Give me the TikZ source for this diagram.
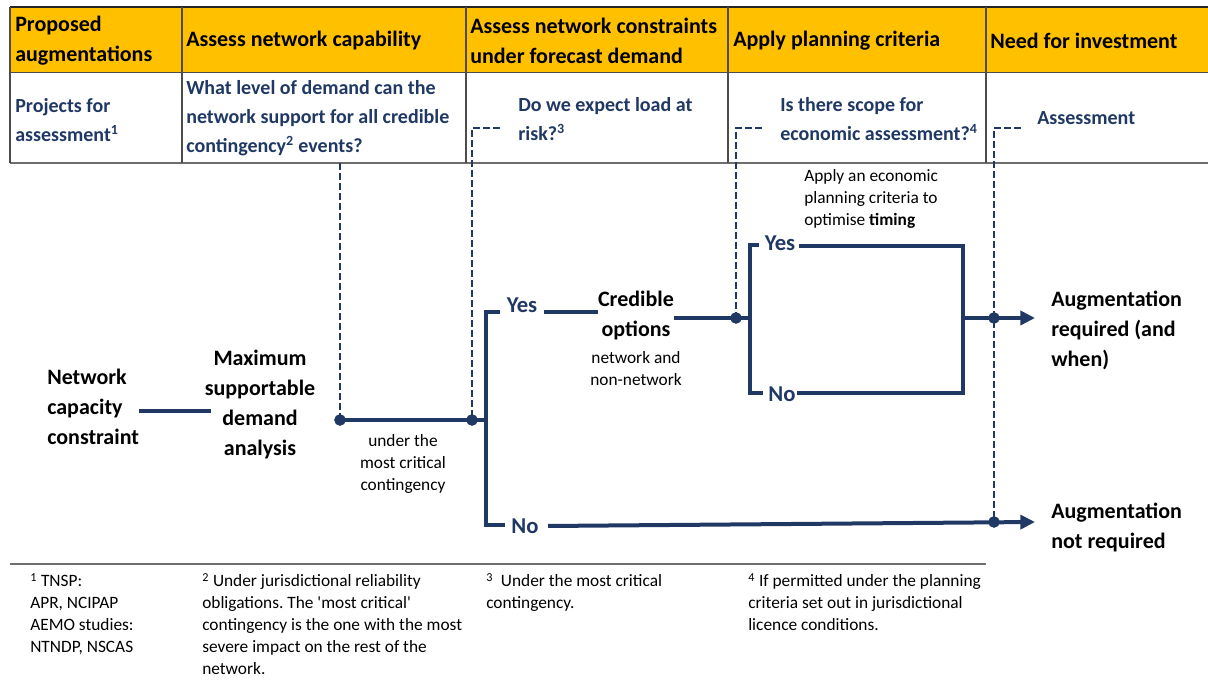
\documentclass[tikz,border=0pt]{standalone}
\usepackage{fontspec}
\setmainfont{Carlito}
\usetikzlibrary{arrows.meta,positioning}
\definecolor{navy}{RGB}{31,56,100}
\definecolor{headyellow}{RGB}{255,192,0}
\definecolor{rulegray}{RGB}{110,110,110}
\frenchspacing
\tikzset{
    head/.style={anchor=west,align=left,inner sep=0pt,font=\bfseries\fontsize{16.5}{22.5}\selectfont},
    quest/.style={anchor=west,align=left,inner sep=0pt,text=navy,font=\bfseries\fontsize{15}{21.75}\selectfont},
    outcome/.style={align=center,inner sep=0pt,font=\bfseries\fontsize{16.5}{22.5}\selectfont},
    remark/.style={align=center,inner sep=0pt,font=\fontsize{13}{16.5}\selectfont},
    foot/.style={anchor=north west,align=left,inner sep=0pt,font=\fontsize{13}{16.5}\selectfont},
    answer/.style={inner sep=0pt,text=navy,font=\bfseries\fontsize{17}{20}\selectfont},
    flow/.style={draw=navy,line width=3pt},
    probe/.style={draw=navy,line width=1.7pt,dash pattern=on 5pt off 2.5pt},
    junction/.style={circle,fill=navy,inner sep=0pt,minimum size=8.5pt},
    outarrow/.style={-{Triangle[length=11pt,width=10.5pt]}},
}
\begin{document}
\begin{tikzpicture}[x=0.75pt,y=-0.75pt]
    \useasboundingbox (0,0) rectangle (1208,680);
    \begin{scope}
        \fill[headyellow] (10,7) rectangle (1208,72);
        \draw[rulegray,line width=1.5pt] (10,163) -- (1208,163);
        \draw[black!85,line width=0.8pt] (10,7) -- (1208,7);
        \draw[black!70,line width=0.6pt] (10,72) -- (1208,72);
        \foreach \x in {10,182,466,728,986}
            \draw[black!70,line width=0.8pt] (\x,7) -- (\x,163);
    \end{scope}

    \node[head] (h1) at (15,41) {Proposed\\augmentations};
    \node[head] (h2) at (186,41) {Assess network capability};
    \node[head] (h3) at (470,41) {Assess network constraints\\under forecast demand};
    \node[head] (h4) at (733,41) {Apply planning criteria};
    \node[head] (h5) at (990,41) {Need for investment};

    \node[quest] (q1) at (15,120) {Projects for\\assessment\textsuperscript{1}};
    \node[quest] (q2) at (186,118) {What level of demand can the\\network support for all credible\\contingency\textsuperscript{2} events?};
    \node[quest] (q3) at (518,119) {Do we expect load at\\risk?\textsuperscript{3}};
    \node[quest] (q4) at (780,119) {Is there scope for\\economic assessment?\textsuperscript{4}};
    \node[quest] (q5) at (1037,118) {Assessment};

    \node[outcome,align=left,anchor=west] (netcap) at (47,407) {Network\\capacity\\constraint};
    \node[outcome] (maxdem) at (260,405) {Maximum\\supportable\\demand\\analysis};
    \node[remark] (worst) at (403,464) {under the\\most critical\\contingency};
    \node[answer] (yes1) at (522,305) {Yes};
    \node[answer] (no1) at (525,526) {No};
    \node[outcome] (cred) at (636,316) {Credible\\options};
    \node[remark] (credsub) at (636,369) {network and\\non-network};
    \node[remark,align=left,anchor=west] (econ) at (804,199) {Apply an economic\\planning criteria to\\optimise \textbf{timing}};
    \node[answer] (yes2) at (780,243) {Yes};
    \node[answer] (no2) at (782,394) {No};
    \node[outcome,align=left,anchor=west] (augreq) at (1051,330) {Augmentation\\required (and\\when)};
    \node[outcome,align=left,anchor=west] (augnot) at (1051,527) {Augmentation\\not required};

    \coordinate (c2) at (472,128);
    \coordinate (c3) at (736,128);
    \coordinate (c4) at (994,128);
    \coordinate (rt) at (963,246);
    \coordinate (rm) at (963,318);
    \coordinate (tip1) at (1035,318);
    \coordinate (tip2) at (1035,522);

    \node[junction] (j1) at (340,420) {};
    \node[junction] (j2) at (472,420) {};
    \node[junction] (j3) at (736,318) {};
    \node[junction] (j4) at (994,318) {};
    \node[junction] (j5) at (994,522) {};

    \draw[probe] (340,163) -- (j1.center);
    \draw[probe] ([xshift=-13.5pt]q3.west |- c2) -- (c2) -- (j2.center);
    \draw[probe] ([xshift=-13.5pt]q4.west |- c3) -- (c3) -- (j3.center);
    \draw[probe] ([xshift=-12pt]q5.west |- c4) -- (c4) -- (j5.center);

    \draw[flow] ([yshift=-3pt]netcap.east) -- ([yshift=-3pt,xshift=5pt]netcap.east -| maxdem.west);
    \draw[flow] (j1.center) -- (486,420);
    \draw[flow] ([xshift=-5pt]yes1.west |- 0,312) -| (486,525) -- ([xshift=-5pt]no1.west |- 0,525);
    \draw[flow] ([xshift=5pt]yes1.base east) -- (yes1.base east -| cred.west);
    \draw[flow] (cred.east |- j3) -- (750,318);
    \draw[flow] ([xshift=-4pt]yes2.west |- 0,245) -| (750,393) -- ([xshift=-4pt]no2.west |- 0,393);
    \draw[flow] ([xshift=3pt]yes2.east |- rt) -| (rm) |- ([xshift=1pt]no2.east |- 0,393);
    \draw[flow,outarrow] (rm) -- (tip1);
    \draw[flow,outarrow] ([xshift=7pt]no1.east) -- (tip2);

    \foreach \j in {j1,j2,j3,j4,j5}
        \fill[navy] (\j) circle (4.25pt);

    \draw[rulegray,line width=1pt] (10,564) -- (986,564);
    \node[foot] (f1) at (30,573) {\textsuperscript{1} TNSP:\\APR, NCIPAP\\AEMO studies:\\NTNDP, NSCAS};
    \node[foot] (f2) at (202,573) {\textsuperscript{2} Under jurisdictional reliability\\obligations. The \textquotesingle most critical\textquotesingle\\contingency is the one with the most\\severe impact on the rest of the\\network.};
    \node[foot] (f3) at (486,573) {\textsuperscript{3}\ \ Under the most critical\\contingency.};
    \node[foot] (f4) at (748,573) {\textsuperscript{4} If permitted under the planning\\criteria set out in jurisdictional\\licence conditions.};
\end{tikzpicture}
\end{document}
